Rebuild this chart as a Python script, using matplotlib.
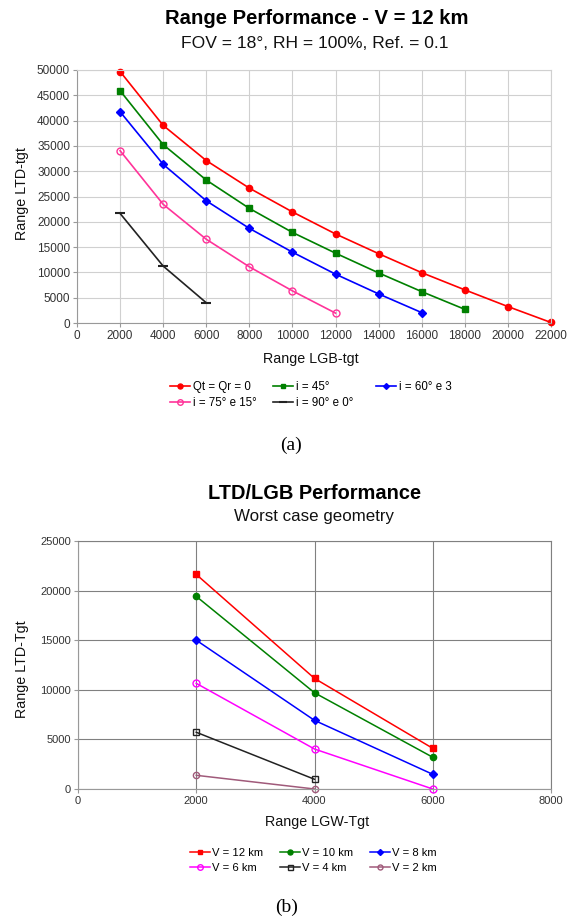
import matplotlib
matplotlib.use("Agg")
import matplotlib.pyplot as plt

plt.rcParams['font.family'] = ['Liberation Sans', 'DejaVu Sans']

# ---------- data (a) ----------
x_qt = [2000, 4000, 6000, 8000, 10000, 12000, 14000, 16000, 18000, 20000, 22000]
y_qt = [49700, 39050, 32100, 26650, 21950, 17600, 13700, 9950, 6550, 3250, 100]
x_45 = [2000, 4000, 6000, 8000, 10000, 12000, 14000, 16000, 18000]
y_45 = [45900, 35250, 28250, 22650, 17900, 13800, 9900, 6200, 2700]
x_60 = [2000, 4000, 6000, 8000, 10000, 12000, 14000, 16000]
y_60 = [41750, 31350, 24150, 18700, 14000, 9650, 5750, 2050]
x_75 = [2000, 4000, 6000, 8000, 10000, 12000]
y_75 = [34050, 23450, 16550, 11100, 6350, 1950]
x_90 = [2000, 4000, 6000]
y_90 = [21650, 11250, 4000]
labels_a = ["Qt = Qr = 0", "i = 45°", "i = 60° e 3", "i = 75° e 15°", "i = 90° e 0°"]

# ---------- data (b) ----------
x_b = [2000, 4000, 6000]
v12 = [21630, 11150, 4100]
v10 = [19420, 9700, 3200]
v8 = [15000, 6920, 1480]
v6 = [10650, 4030, 0]
x_b2 = [2000, 4000]
v4 = [5720, 980]
v2 = [1380, 0]
labels_b = ["V = 12 km", "V = 10 km", "V = 8 km", "V = 6 km", "V = 4 km", "V = 2 km"]

W, H = 577, 923
fig = plt.figure(figsize=(W / 100, H / 100), dpi=100)

def px_axes(l, t, r, b):
    return fig.add_axes([l / W, 1 - b / H, (r - l) / W, (b - t) / H])

def ftext(x, y, s, **kw):
    return fig.text(x / W, 1 - y / H, s, ha='center', va='center', **kw)

def style(ax, gridcolor, labelsize):
    ax.grid(True, color=gridcolor, linewidth=0.8)
    ax.set_axisbelow(True)
    for s in ax.spines.values():
        s.set_color(gridcolor)
        s.set_linewidth(0.8)
    ax.spines['left'].set_color('#999999')
    ax.spines['bottom'].set_color('#999999')
    ax.tick_params(axis='both', labelsize=labelsize, length=3, color='#999999',
                   labelcolor='#333333', pad=2)

def entry(handle, label, x, y, fs):
    fig.legend([handle], [label], loc='center left', bbox_to_anchor=(x / W, 1 - y / H),
               frameon=False, fontsize=fs, handlelength=1.75, handletextpad=0.25,
               borderaxespad=0, borderpad=0, markerscale=0.8)

# ---------- chart (a) ----------
ax1 = px_axes(77, 70, 551, 323)
ms = 4.5
l1, = ax1.plot(x_qt, y_qt, color='#ff0000', marker='o', ms=ms, lw=1.2, clip_on=False)
l2, = ax1.plot(x_45, y_45, color='#008000', marker='s', ms=ms - 0.5, lw=1.2, clip_on=False)
l3, = ax1.plot(x_60, y_60, color='#0000ff', marker='D', ms=ms - 0.8, lw=1.2, clip_on=False)
l4, = ax1.plot(x_75, y_75, color='#ff3399', marker='o', ms=ms + 0.5, mfc='none', mew=1.0, lw=1.2, clip_on=False)
l5, = ax1.plot(x_90, y_90, color='#222222', marker='_', ms=7, mew=1.5, lw=1.2, clip_on=False)
ax1.set_xlim(0, 22000)
ax1.set_ylim(0, 50000)
ax1.set_xticks(range(0, 22001, 2000))
ax1.set_yticks(range(0, 50001, 5000))
style(ax1, '#d0d0d0', 8.5)

ftext(317, 18, "Range Performance - V = 12 km", fontsize=14.6, fontweight='bold')
ftext(315, 43.5, "FOV = 18°, RH = 100%, Ref. = 0.1", fontsize=12.6, color='#111111')
ftext(311, 359, "Range LGB-tgt", fontsize=10.3, color='#111111')
ftext(22, 194, "Range LTD-tgt", fontsize=10.3, rotation=90, color='#111111')

hs_a = [l1, l2, l3, l4, l5]
pos_a = [(170, 387), (273, 387), (376, 387), (170, 403.5), (273, 403.5)]
for hnd, lab, (px, py) in zip(hs_a, labels_a, pos_a):
    entry(hnd, lab, px, py, 8.3)

ftext(291, 445, "(a)", fontsize=14, family=['Liberation Serif', 'DejaVu Serif'])

# ---------- chart (b) ----------
ax2 = px_axes(78, 541, 551, 789)
m1, = ax2.plot(x_b, v12, color='#ff0000', marker='s', ms=4, lw=1.1, clip_on=False)
m2, = ax2.plot(x_b, v10, color='#008000', marker='o', ms=4.5, lw=1.1, clip_on=False)
m3, = ax2.plot(x_b, v8, color='#0000ff', marker='D', ms=3.8, lw=1.1, clip_on=False)
m4, = ax2.plot(x_b, v6, color='#ff00ff', marker='o', ms=5, mfc='none', mew=1.0, lw=1.1, clip_on=False)
m5, = ax2.plot(x_b2, v4, color='#222222', marker='s', ms=4.5, mfc='none', mew=1.0, lw=1.1, clip_on=False)
m6, = ax2.plot(x_b2, v2, color='#a05a7a', marker='o', ms=4.5, mfc='none', mew=1.0, lw=1.1, clip_on=False)
ax2.set_xlim(0, 8000)
ax2.set_ylim(0, 25000)
ax2.set_xticks(range(0, 8001, 2000))
ax2.set_yticks(range(0, 25001, 5000))
style(ax2, '#808080', 8)

ftext(314, 494, "LTD/LGB Performance", fontsize=14.4, fontweight='bold')
ftext(314, 517, "Worst case geometry", fontsize=12.2, color='#111111')
ftext(317, 822, "Range LGW-Tgt", fontsize=10.3, color='#111111')
ftext(22, 669, "Range LTD-Tgt", fontsize=10.3, rotation=90, color='#111111')

hs_b = [m1, m2, m3, m4, m5, m6]
pos_b = [(190, 852.5), (280, 852.5), (370, 852.5), (190, 868), (280, 868), (370, 868)]
for hnd, lab, (px, py) in zip(hs_b, labels_b, pos_b):
    entry(hnd, lab, px, py, 8.1)

ftext(287, 907, "(b)", fontsize=14, family=['Liberation Serif', 'DejaVu Serif'])

fig.savefig("out.png", dpi=100)
